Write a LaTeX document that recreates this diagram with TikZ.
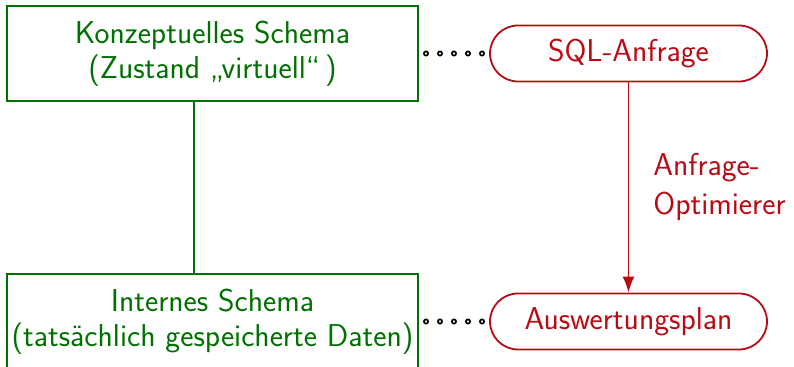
\documentclass[tikz,border=0pt]{standalone}
\usepackage{tikz}
\usetikzlibrary{decorations.markings, arrows.meta}
\definecolor{schemagreen}{RGB}{0,112,0}
\definecolor{queryred}{RGB}{185,10,20}

\begin{document}
\begin{tikzpicture}[x=0.5pt, y=0.5pt, font=\sffamily\fontsize{15.8}{17.5}\selectfont, schema/.style={draw=schemagreen, text=schemagreen, rectangle, line width=1pt, minimum width=205.5pt, minimum height=47.5pt, inner sep=0pt, align=center}, query/.style={draw=queryred, text=queryred, rectangle, rounded corners=14pt, line width=0.9pt, minimum width=138.5pt, minimum height=28pt, inner sep=0pt}, link/.style={line width=1pt, schemagreen}, opt/.style={-{Latex[length=8pt, width=6pt]}, line width=0.9pt, queryred}, ring/.style={decoration={markings, mark=between positions 3.5pt and -2.5pt step 7pt with {\draw[line width=0.85pt, fill=white] (0,0) circle (1.05pt);}}, postaction={decorate}}]
        \clip (0,0) rectangle (794,367);
        % nodes
        \node[schema] (conz) at (212.5,313.5) {Konzeptuelles Schema\\(Zustand „virtuell“\,)};
        \node[schema] (intern) at (212.5,45.5) {Internes Schema\\(tatsächlich gespeicherte Daten)};
        \node[query] (sql) at (628.5,313.5) {SQL-Anfrage};
        \node[query] (plan) at (628.5,45.5) {Auswertungsplan};
        \coordinate (join) at (194,0);
        % edges
        \draw [link] (conz.south -| join) -- (intern.north -| join);
        \draw [opt] (sql) -- node[right=12pt, inner sep=0pt, align=left, text=queryred, font=\sffamily\fontsize{15.8}{19.5}\selectfont] {Anfrage-\\Optimierer} (plan);
        \path [ring] (conz) -- (sql);
        \path [ring] (intern) -- (plan);
\end{tikzpicture}
\end{document}
